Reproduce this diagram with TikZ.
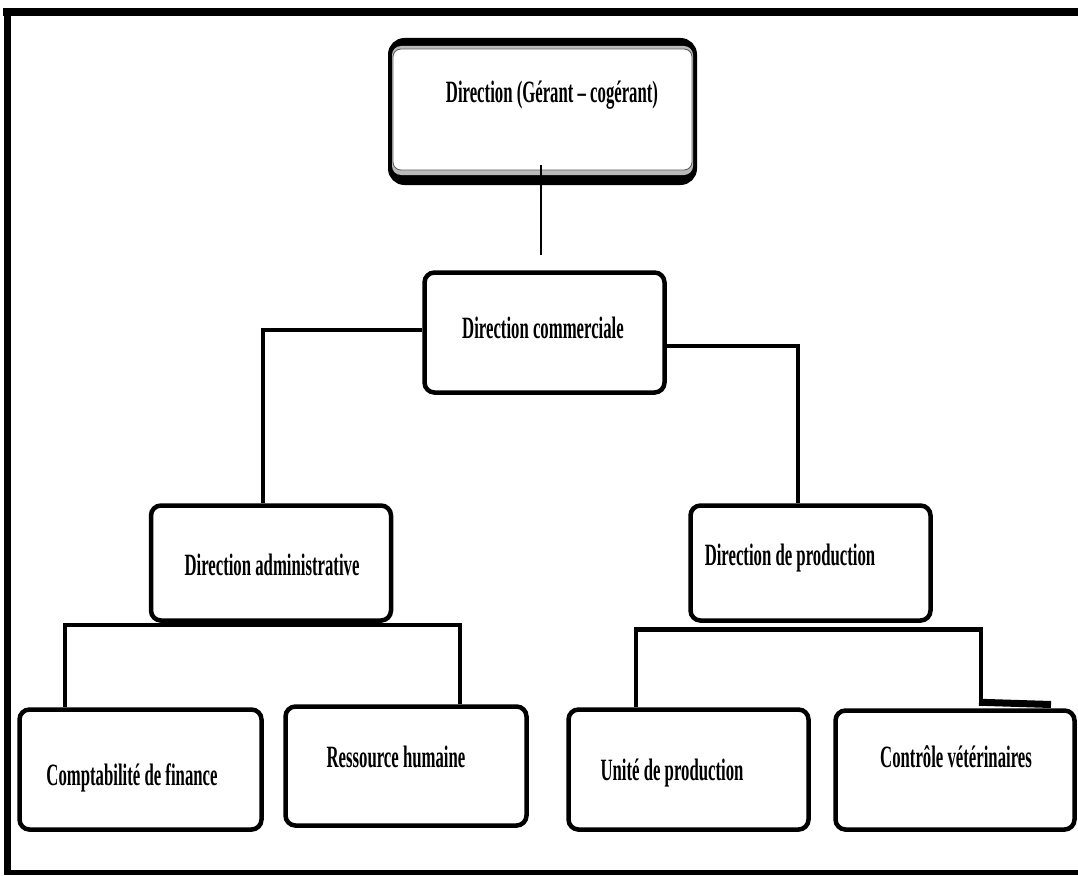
\documentclass[tikz,border=0pt]{standalone}
\usepackage{fontspec}
\setmainfont{Liberation Serif}
\usepackage{graphicx}
\usetikzlibrary{shadows}

% condensed bold label text
\newcommand{\condtxt}[1]{\scalebox{0.54}[1]{#1}}

\tikzset{
  orgbox/.style={draw=black, fill=white, line width=4.5pt, rounded corners=10pt,
    inner sep=0pt, minimum width=240pt, minimum height=119pt,
    drop shadow={shadow xshift=0pt, shadow yshift=-2pt, opacity=1, fill=black}},
  lbl/.style={anchor=base, inner sep=0pt, font=\fontsize{31}{31}\selectfont\bfseries},
  conn/.style={draw=black, line width=4.5pt},
  thinconn/.style={draw=black, line width=2.2pt},
  frame/.style={fill=black}
}

\begin{document}
\begin{tikzpicture}[x=1pt, y=-1pt]
\useasboundingbox (0,0) rectangle (1078,875);
\fill[white] (0,0) rectangle (1078,875);

% outer frame
\fill[frame] (3,8) rectangle (1078,16);
\fill[frame] (4,8) rectangle (11,875);
\fill[frame] (4,870) rectangle (1078,875);

% top box: heavy outer rim, grey band and thin inner rule
\node[draw=black, fill=black, line width=5pt, rounded corners=14pt, inner sep=0pt,
      minimum width=304pt, minimum height=142pt] (dir) at (542.5,111.5) {};
\fill[gray!55, rounded corners=9pt] ([shift={(4,8)}]dir.north west) rectangle ([shift={(-4,-10)}]dir.south east);
\filldraw[fill=white, draw=gray!70!black, line width=0.8pt, rounded corners=8pt]
  ([shift={(5,11)}]dir.north west) rectangle ([shift={(-5,-15)}]dir.south east);
\node[lbl] (t0) at (552,102) {\condtxt{Direction (Gérant – cogérant)}};

% second and third levels
\node[orgbox, minimum height=120pt] (com) at (544.5,332.5) {};
\node[orgbox, minimum height=115pt] (adm) at (271,563) {};
\node[orgbox, minimum height=115pt] (prod) at (810.5,563) {};

% bottom level
\node[orgbox, minimum width=242pt, minimum height=120pt] (comp) at (140.5,769.5) {};
\node[orgbox, minimum width=241pt] (rh) at (406,766) {};
\node[orgbox, minimum height=120pt] (unite) at (688.5,769.5) {};
\node[orgbox, minimum width=239pt] (ctrl) at (955,770) {};

% labels
\node[lbl] (t1) at (543,338) {\condtxt{Direction commerciale}};
\node[lbl] (t2) at (272,575) {\condtxt{Direction administrative}};
\node[lbl] (t3) at (790,565) {\condtxt{Direction de production}};
\node[lbl] (t4) at (132,785) {\condtxt{Comptabilité de finance}};
\node[lbl] (t5) at (396,767) {\condtxt{Ressource humaine}};
\node[lbl] (t6) at (672,780) {\condtxt{Unité de production}};
\node[lbl] (t7) at (956,767) {\condtxt{Contrôle vétérinaires}};

% connectors
\coordinate (c0) at (541,255);
\draw[thinconn] ([xshift=-1.5pt, yshift=20pt]dir.south) -- (c0);

\draw[conn] ([yshift=2.5pt]com.west) -| ([xshift=-8pt]adm.north);
\draw[conn] ([yshift=-13.5pt]com.east) -| ([xshift=-12.5pt]prod.north);

\coordinate (ha) at (0,625);
\draw[conn] ([xshift=-75.5pt]comp.north) |- (ha -| adm.south)
  -| ([xshift=54pt]rh.north);
\draw[conn] ([xshift=-52.5pt]unite.north) |- ([yshift=-6.5pt]prod.south)
  -| ([xshift=26pt, yshift=6pt]ctrl.north);
\coordinate (stub) at (1051,704.5);
\draw[black, line width=7pt] ([xshift=24pt, yshift=6pt]ctrl.north) -- (stub);
\end{tikzpicture}
\end{document}
